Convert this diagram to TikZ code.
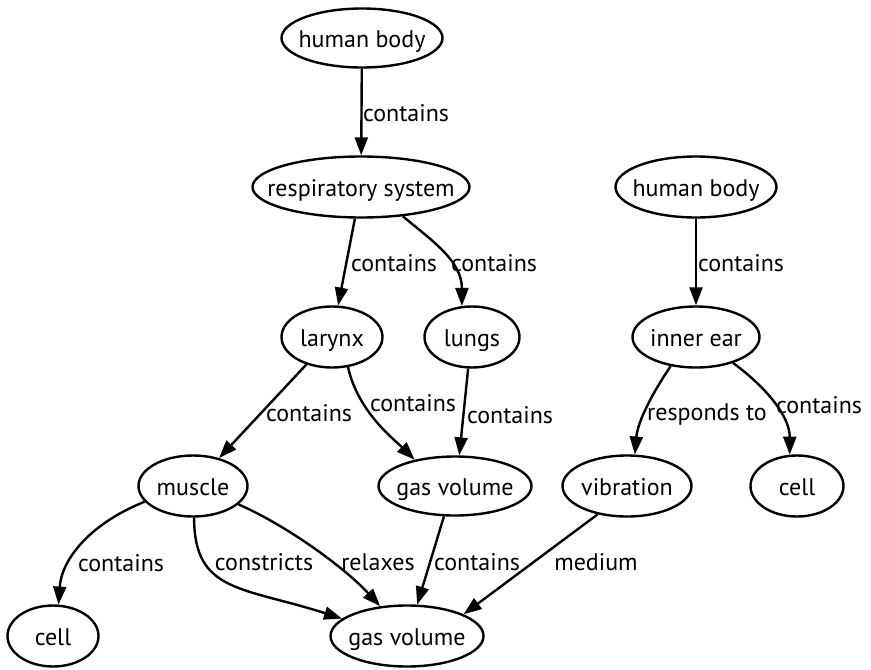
\documentclass[tikz,border=0pt]{standalone}
\usepackage{fontspec}
\setmainfont{PT Sans}
\usetikzlibrary{shapes.geometric,arrows.meta}
\begin{document}
\begin{tikzpicture}[x=1pt,y=-1pt,
  txt/.style={font=\fontsize{24}{28}\selectfont},
  % the outline size is fixed by the minimum sizes, not by the text
  concept/.style 2 args={ellipse, draw, line width=2.4pt, inner xsep=-80pt,
    inner ysep=-20pt, txt, text height=22pt, text depth=4pt,
    minimum width=#1pt, minimum height=#2pt},
  rel/.style={draw, line width=2.4pt, -{Triangle[length=18pt,width=13pt]}},
  lbl/.style={txt, anchor=base, inner sep=0pt}]
\useasboundingbox (0,0) rectangle (871,670);

% concepts
\node[concept={161}{59}] (hb1)    at (362,38)  {human body};
\node[concept={217}{61}] (resp)   at (361,187) {respiratory system};
\node[concept={161}{61}] (hb2)    at (696,187) {human body};
\node[concept={101}{61}] (larynx) at (332,337) {larynx};
\node[concept={95}{61}]  (lungs)  at (472,337) {lungs};
\node[concept={127}{61}] (inner)  at (696,337) {inner ear};
\node[concept={109}{61}] (muscle) at (193,486) {muscle};
\node[concept={153}{59}] (gas1)   at (455,486) {gas volume};
\node[concept={129}{61}] (vib)    at (627,486) {vibration};
\node[concept={93}{61}]  (cell2)  at (797,486) {cell};
\node[concept={91}{61}]  (cell1)  at (53,636)  {cell};
\node[concept={153}{61}] (gas2)   at (407,636) {gas volume};

% relations
\draw[rel] (hb1) -- (resp);
\draw[rel] (resp) -- (larynx);
\draw[rel] (resp.-35) .. controls +(30,25) and +(0,-45) .. (lungs.108);
\draw[rel] (hb2) -- (inner);
\draw[rel] (larynx) -- (muscle);
\draw[rel] (larynx.-62) .. controls +(10,45) and +(-20,-20) .. (gas1.147);
\draw[rel] (lungs.-97) -- (gas1.82);
\draw[rel] (inner.-131) .. controls +(-15,22) and +(3,-35) .. (vib.76);
\draw[rel] (inner.-35) .. controls +(30,22) and +(0,-40) .. (cell2.103);
\draw[rel] (muscle.-162) .. controls +(-55,22) and +(3,-45) .. (cell1.80);
\draw[rel] (muscle.-88) .. controls +(0,75) and +(-100,-32) .. (gas2.165);
\draw[rel] (muscle.-22) .. controls +(50,22) and +(-35,-38) .. (gas2.132);
\draw[rel] (gas1.-110) -- (gas2.72);
\draw[rel] (vib.-136) -- (gas2.21);

% relation labels
\node[lbl] (l1)  at (406,121) {contains};
\node[lbl] (l2)  at (394,271) {contains};
\node[lbl] (l3)  at (494,271) {contains};
\node[lbl] (l4)  at (741,271) {contains};
\node[lbl] (l5)  at (309,421) {contains};
\node[lbl] (l6)  at (413,411) {contains};
\node[lbl] (l7)  at (510,423) {contains};
\node[lbl] (l8)  at (707,420) {responds to};
\node[lbl] (l9)  at (819,413) {contains};
\node[lbl] (l10) at (121,571) {contains};
\node[lbl] (l11) at (264,570) {constricts};
\node[lbl] (l12) at (378,570) {relaxes};
\node[lbl] (l13) at (477,570) {contains};
\node[lbl] (l14) at (596,570) {medium};
\end{tikzpicture}
\end{document}
